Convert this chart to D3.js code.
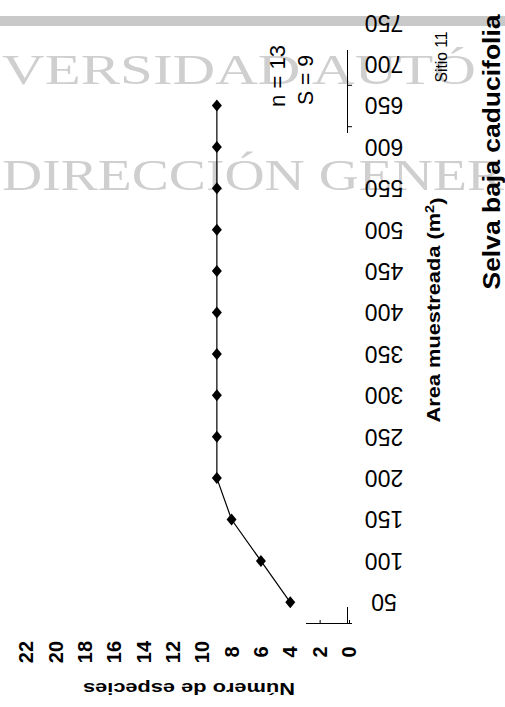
<!DOCTYPE html>
<html><head><meta charset="utf-8">
<script src="https://cdn.jsdelivr.net/npm/d3@7"></script>
<style>
body{margin:0;background:#fff}
svg{display:block}
text{font-family:"Liberation Sans",Arial,sans-serif;fill:#000}
</style>
</head><body>
<svg id="c" width="505" height="707"></svg>
<script>
// ---- data ----
const areaCategories = [50,100,150,200,250,300,350,400,450,500,550,600,650,700,750];
const areaSampled = [50,100,150,200,250,300,350,400,450,500,550,600,650];
const speciesCount = [4,6,8,9,9,9,9,9,9,9,9,9,9];
const speciesTicks = [0,2,4,6,8,10,12,14,16,18,20,22];
const statsLabels = ["n = 13","S = 9"];
const chartTitle = "Selva baja caducifolia";
const siteLabel = "Sitio 11";
const xTitleMain = "Area muestreada (m";
const xTitleSup = "2";
const xTitleEnd = ")";
const yTitle = "Número de especies";
const watermarkLines = ["VERSIDAD AUTÓ","DIRECCIÓN GENER"];

const svg = d3.select("#c");

// scan artefacts: gray band and watermark
svg.append("rect").attr("x",0).attr("y",16).attr("width",505).attr("height",10).attr("fill","#c9c9c9");
svg.append("text").text(watermarkLines[0])
  .attr("x",2).attr("y",84).attr("textLength",474).attr("lengthAdjust","spacingAndGlyphs")
  .style("font-family","'Liberation Serif',serif").style("font-size","43px").style("fill","#cfcfcf");
svg.append("text").text(watermarkLines[1])
  .attr("x",2).attr("y",190).attr("textLength",502).attr("lengthAdjust","spacingAndGlyphs")
  .style("font-family","'Liberation Serif',serif").style("font-size","45px").style("fill","#cfcfcf");

// ---- scales (chart is rotated: area runs bottom->top, species runs right->left) ----
const area = d3.scalePoint().domain(areaCategories).range([623, 2]).padding(0.5);
const species = d3.scaleLinear().domain([0, 22]).range([349, 26]);
const boundary = d3.scaleLinear().domain([0, areaCategories.length]).range([623, 2]);

// ---- axes (only fragments survive in the scan) ----
const defs = svg.append("defs");
const cp1 = defs.append("clipPath").attr("id","cpA");
cp1.append("rect").attr("x",340).attr("y",50).attr("width",25).attr("height",83);
cp1.append("rect").attr("x",340).attr("y",607).attr("width",25).attr("height",20);
const cp2 = defs.append("clipPath").attr("id","cpS");
cp2.append("rect").attr("x",306).attr("y",610).attr("width",50).attr("height",20);

svg.append("g").attr("clip-path","url(#cpA)").append("g")
  .attr("transform",`translate(${species(0) - 2},0)`)
  .call(d3.axisRight(boundary).ticks(areaCategories.length).tickSize(5).tickSizeOuter(0).tickFormat(""))
  .call(g=>g.selectAll("path,line").attr("stroke","#000").attr("stroke-width",1));

svg.append("g").attr("clip-path","url(#cpS)").append("g")
  .attr("transform",`translate(0,${boundary(0)})`)
  .call(d3.axisTop(species).tickValues(speciesTicks).tickSize(3).tickSizeOuter(0).tickFormat(""))
  .call(g=>g.selectAll("path,line").attr("stroke","#000").attr("stroke-width",1));

// tick labels
svg.append("g").selectAll("text").data(areaCategories).join("text")
  .attr("transform", d=>`translate(384,${area(d)}) rotate(180)`)
  .attr("text-anchor","middle").attr("dy","0.35em")
  .style("font-size","23px")
  .text(d=>d);

svg.append("g").selectAll("text").data(speciesTicks).join("text")
  .attr("transform", d=>`translate(${species(d)},652) rotate(-90)`)
  .attr("text-anchor","middle").attr("dy","0.36em")
  .style("font-size","20px").style("font-weight","bold")
  .text(d=>d);

// axis titles
svg.append("text")
  .attr("transform","translate(189,689) rotate(180)")
  .attr("text-anchor","middle").attr("dy","0.35em")
  .attr("textLength",212).attr("lengthAdjust","spacingAndGlyphs")
  .style("font-size","17px").style("font-weight","bold")
  .text(yTitle);

const xt = svg.append("text")
  .attr("transform","translate(434,310) rotate(-90)")
  .attr("text-anchor","middle").attr("dy","0.35em")
  .attr("textLength",225).attr("lengthAdjust","spacingAndGlyphs")
  .style("font-size","18px").style("font-weight","bold");
xt.append("tspan").text(xTitleMain);
xt.append("tspan").attr("dy","-0.5em").style("font-size","12px").text(xTitleSup);
xt.append("tspan").attr("dy","0.5em").text(xTitleEnd);

svg.append("text")
  .attr("transform","translate(492,152) rotate(-90)")
  .attr("text-anchor","middle").attr("dy","0.35em")
  .attr("textLength",275).attr("lengthAdjust","spacingAndGlyphs")
  .style("font-size","23px").style("font-weight","bold")
  .text(chartTitle);

svg.append("text")
  .attr("transform","translate(447,57) rotate(-90)")
  .attr("text-anchor","middle")
  .attr("textLength",51).attr("lengthAdjust","spacingAndGlyphs")
  .style("font-size","16px")
  .text(siteLabel);

const statLens = [62,50];
const statY = [107,105];
svg.append("g").selectAll("text").data(statsLabels).join("text")
  .attr("transform",(d,i)=>`translate(${285 + i*28},${statY[i]}) rotate(-90)`)
  .attr("text-anchor","start")
  .attr("textLength",(d,i)=>statLens[i]).attr("lengthAdjust","spacingAndGlyphs")
  .style("font-size","22px")
  .text(d=>d);

// ---- series ----
const pts = areaSampled.map((a,i)=>({a, s: speciesCount[i]}));
svg.append("path").datum(pts)
  .attr("fill","none").attr("stroke","#000").attr("stroke-width",1.2)
  .attr("d", d3.line().x(d=>species(d.s)).y(d=>area(d.a)));

svg.append("g").selectAll("path").data(pts).join("path")
  .attr("transform", d=>`translate(${species(d.s)},${area(d.a)}) scale(1,1.2) rotate(45)`)
  .attr("d", d3.symbol(d3.symbolSquare, 50))
  .attr("fill","#000");
</script>
</body></html>
